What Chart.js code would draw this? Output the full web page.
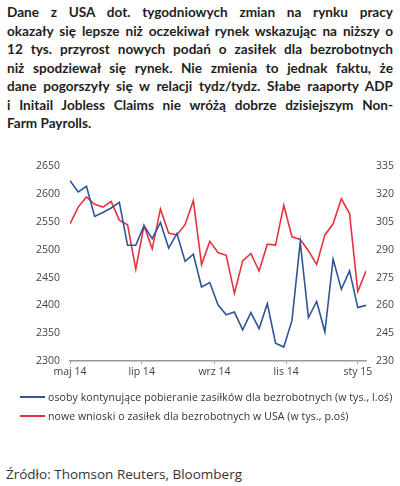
<!DOCTYPE html>
<html>
<head>
<meta charset="utf-8">
<script src="https://cdn.jsdelivr.net/npm/chart.js@4"></script>
<style>
  body { margin: 0; background: #fff; width: 400px; height: 486px; position: relative; overflow: hidden; }
  #lead { position: absolute; left: 7px; top: 3px; width: 386px; font-family: Lato, sans-serif; font-weight: bold; font-size: 13.6px; color: #1e1e1e; line-height: 18.5px; }
  #lead div { text-align: justify; text-align-last: justify; white-space: nowrap; }
  #lead div.last { text-align-last: left; }
  #wrap { position: absolute; left: 0; top: 150px; width: 400px; height: 238px; }
  #legend { position: absolute; left: 20px; top: 387px; width: 380px; font-family: "Open Sans", sans-serif; font-size: 10.5px; letter-spacing: 0.1px; color: #333; white-space: nowrap; }
  .item { display: flex; align-items: center; height: 19px; }
  .swatch { width: 25px; height: 2px; margin-right: 3px; flex: none; }
  #source { position: absolute; left: 6px; top: 466px; font-family: "Open Sans", sans-serif; font-size: 13.5px; line-height: 16px; color: #333; }
</style>
</head>
<body>
<div id="lead">
  <div>Dane z USA dot. tygodniowych zmian na rynku pracy</div>
  <div>okazały się lepsze niż oczekiwał rynek wskazując na niższy o</div>
  <div>12 tys. przyrost nowych podań o zasiłek dla bezrobotnych</div>
  <div>niż spodziewał się rynek. Nie zmienia to jednak faktu, że</div>
  <div>dane pogorszyły się w relacji tydz/tydz. Słabe raaporty ADP</div>
  <div>i Initail Jobless Claims nie wróżą dobrze dzisiejszym Non-</div>
  <div class="last">Farm Payrolls.</div>
</div>
<div id="wrap"><canvas id="chart"></canvas></div>
<div id="legend"></div>
<div id="source">Źródło: Thomson Reuters, Bloomberg</div>
<script>
// weekly release dates
const weeks = [
  '2014-05-01', '2014-05-08', '2014-05-15', '2014-05-22', '2014-05-29',
  '2014-06-05', '2014-06-12', '2014-06-19', '2014-06-26', '2014-07-03',
  '2014-07-10', '2014-07-17', '2014-07-24', '2014-07-31', '2014-08-07',
  '2014-08-14', '2014-08-21', '2014-08-28', '2014-09-04', '2014-09-11',
  '2014-09-18', '2014-09-25', '2014-10-02', '2014-10-09', '2014-10-16',
  '2014-10-23', '2014-10-30', '2014-11-06', '2014-11-13', '2014-11-20',
  '2014-11-27', '2014-12-04', '2014-12-11', '2014-12-18', '2014-12-25',
  '2015-01-01', '2015-01-08'
];

// continuing claims, thousands (left axis)
const continuing = [
  2624, 2604, 2614, 2560, 2567, 2575, 2585, 2508, 2508, 2543,
  2520, 2549, 2503, 2529, 2479, 2492, 2433, 2441, 2401, 2383,
  2388, 2356, 2387, 2358, 2403, 2332, 2325, 2373, 2514, 2378,
  2407, 2352, 2483, 2429, 2462, 2396, 2400
];

// initial claims, thousands (right axis)
const initial = [
  304, 313, 318.5, 314.5, 313, 316, 306, 303.5, 279.5, 303,
  290.5, 312, 299, 298, 303.5, 316.5, 282, 294.5, 288.5, 287,
  266.5, 284, 288, 278.5, 293, 292.5, 314, 297, 295.5, 289.5,
  282, 298, 304, 317.5, 309.5, 267.5, 278.5
];

const tickDates = ['2014-05-01', '2014-07-01', '2014-09-01', '2014-11-01', '2015-01-01'];
const tickLabels = ['maj 14', 'lip 14', 'wrz 14', 'lis 14', 'sty 15'];

const seriesNames = [
  'osoby kontynujące pobieranie zasiłków dla bezrobotnych (w tys., l.oś)',
  'nowe wnioski o zasiłek dla bezrobotnych w USA (w tys., p.oś)'
];
const seriesColors = ['#2f5596', '#e5323f'];

const toDay = d => Date.parse(d) / 86400000;
const tickDays = tickDates.map(toDay);
const tickFont = { family: 'Open Sans', size: 10.5 };

const ctx = document.getElementById('chart').getContext('2d');
new Chart(ctx, {
  type: 'line',
  data: {
    datasets: [
      {
        label: seriesNames[0],
        data: weeks.map((w, i) => ({ x: toDay(w), y: continuing[i] })),
        borderColor: seriesColors[0],
        borderWidth: 1.6,
        pointRadius: 0,
        tension: 0,
        yAxisID: 'y'
      },
      {
        label: seriesNames[1],
        data: weeks.map((w, i) => ({ x: toDay(w), y: initial[i] })),
        borderColor: seriesColors[1],
        borderWidth: 1.6,
        pointRadius: 0,
        tension: 0,
        yAxisID: 'y1'
      }
    ]
  },
  options: {
    responsive: true,
    maintainAspectRatio: false,
    animation: false,
    layout: { padding: { top: 12, left: 0, right: 0, bottom: 0 } },
    plugins: { legend: { display: false }, tooltip: { enabled: false } },
    scales: {
      x: {
        type: 'linear',
        min: toDay(weeks[0]),
        max: toDay(weeks[weeks.length - 1]),
        afterBuildTicks: scale => { scale.ticks = tickDays.map(v => ({ value: v })); },
        afterFit: scale => { scale.height = 27; },
        ticks: {
          autoSkip: false,
          maxRotation: 0,
          padding: 2,
          color: '#444',
          font: tickFont,
          callback: v => tickLabels[tickDays.indexOf(v)]
        },
        grid: { drawOnChartArea: false, tickLength: 3, color: '#999' },
        border: { color: '#999', width: 1.5 }
      },
      y: {
        position: 'left',
        min: 2300,
        max: 2650,
        afterFit: scale => { scale.width = 70; },
        ticks: { stepSize: 50, padding: 10, color: '#444', font: tickFont, callback: v => String(v) },
        grid: { display: false, drawTicks: false },
        border: { display: false }
      },
      y1: {
        position: 'right',
        min: 230,
        max: 335,
        afterFit: scale => { scale.width = 34; },
        ticks: { stepSize: 15, padding: 10, color: '#444', font: tickFont, callback: v => String(v) },
        grid: { display: false, drawTicks: false },
        border: { display: false }
      }
    }
  }
});

// legend
const legend = document.getElementById('legend');
seriesNames.forEach((name, i) => {
  const row = document.createElement('div');
  row.className = 'item';
  const sw = document.createElement('span');
  sw.className = 'swatch';
  sw.style.background = seriesColors[i];
  row.appendChild(sw);
  const txt = document.createElement('span');
  txt.textContent = name;
  row.appendChild(txt);
  legend.appendChild(row);
});
</script>
</body>
</html>
